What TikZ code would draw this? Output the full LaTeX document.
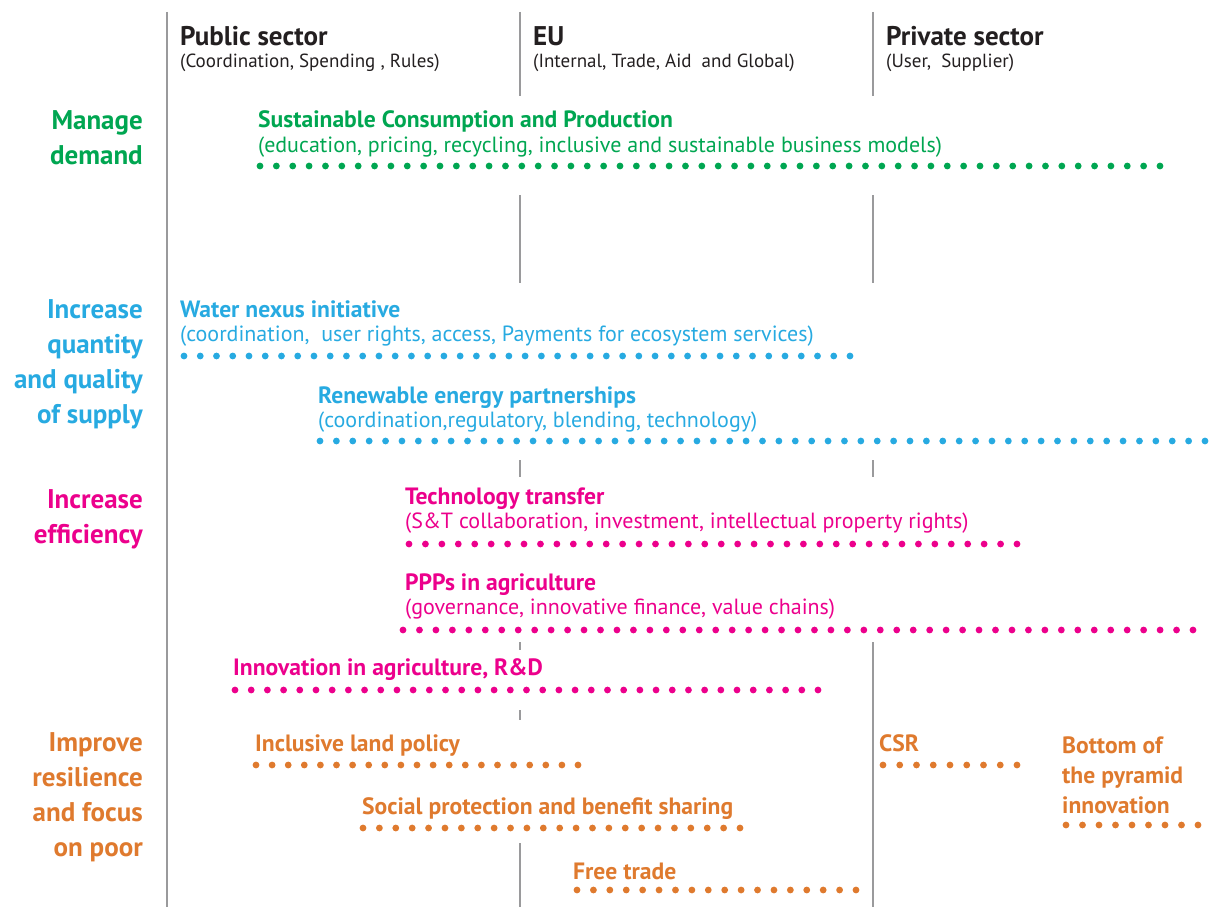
\documentclass[tikz,border=0pt]{standalone}
\usepackage{fontspec}
\setmainfont{PT Sans}
\definecolor{cgreen}{HTML}{00A651}
\definecolor{ccyan}{HTML}{27AAE1}
\definecolor{cmag}{HTML}{EC008C}
\definecolor{corange}{HTML}{DF7A2E}
\definecolor{cgray}{HTML}{9A9A9C}
\definecolor{ctext}{HTML}{231F20}
\newcommand\dotrow[4]{%
  \pgfmathtruncatemacro\dotn{round((#3-#2)/16.4)}%
  \pgfmathsetmacro\dotd{(#3-#2)/\dotn}%
  \foreach \k in {0,...,\dotn}{\fill[#1] ({#2+\k*\dotd},#4) circle[radius=3.4pt];}}
\tikzset{
  vline/.style={cgray, line width=2.3pt},
  hdtitle/.style={font=\bfseries\fontsize{27}{30}\selectfont, text=ctext, anchor=base west, inner sep=0pt},
  hdsub/.style={font=\fontsize{19}{22}\selectfont, text=ctext, anchor=base west, inner sep=0pt},
  rowlab/.style={font=\bfseries\fontsize{27}{35}\selectfont, align=right, anchor=base east, inner sep=0pt},
  ititle/.style={font=\bfseries\fontsize{23.6}{30}\selectfont, anchor=base west, inner sep=0pt},
  isub/.style={font=\fontsize{22}{25}\selectfont, anchor=base west, inner sep=0pt},
}
\begin{document}
\begin{tikzpicture}[x=1pt,y=-1pt]
\useasboundingbox (0,0) rectangle (1213,907);
% vertical column lines
\draw[vline] (167,12) -- (167,907);
\draw[vline] (520,12) -- (520,96);
\draw[vline] (520,195) -- (520,283);
\draw[vline] (520,460) -- (520,477);
\draw[vline] (520,642) -- (520,650);
\draw[vline] (520,710) -- (520,720);
\draw[vline] (520,843) -- (520,907);
\draw[vline] (873,12) -- (873,96);
\draw[vline] (873,195) -- (873,283);
\draw[vline] (873,460) -- (873,477);
\draw[vline] (873,642) -- (873,907);
% headers
\node[hdtitle] (pubt) at (180,46) {Public sector};
\node[hdsub] (pubs) at (180,68) {(Coordination, Spending , Rules)};
\node[hdtitle] (eut) at (533,46) {EU};
\node[hdsub] (eus) at (533,68) {(Internal, Trade, Aid\ \ and Global)};
\node[hdtitle] (prit) at (886,46) {Private sector};
\node[hdsub] (pris) at (886,68) {(User,\ \ Supplier)};
% row labels (base = last line)
\node[rowlab, text=cgreen] (r1) at (143,164) {Manage\\demand};
\node[rowlab, text=ccyan] (r2) at (143,423) {Increase\\quantity\\and quality\\of supply};
\node[rowlab, text=cmag] (r3) at (143,543) {Increase\\efficiency};
\node[rowlab, text=corange] (r4) at (143,856) {Improve\\resilience\\and focus\\on poor};
% green
\node[ititle, text=cgreen] (scp) at (258,127) {Sustainable Consumption and Production};
\node[isub, text=cgreen] (scps) at (258,152) {(education, pricing, recycling, inclusive and sustainable business models)};
\dotrow{cgreen}{260}{1160}{166}
% cyan
\node[ititle, text=ccyan] (wni) at (180,317) {Water nexus initiative};
\node[isub, text=ccyan] (wnis) at (180,341) {(coordination,\ \ user rights, access, Payments for ecosystem services)};
\dotrow{ccyan}{184}{850}{356}
\node[ititle, text=ccyan] (rep) at (318,403) {Renewable energy partnerships};
\node[isub, text=ccyan] (reps) at (318,427) {(coordination,regulatory, blending, technology)};
\dotrow{ccyan}{320}{1205}{441}
% magenta
\node[ititle, text=cmag] (tt) at (405,504) {Technology transfer};
\node[isub, text=cmag] (tts) at (405,528) {(S\&T collaboration, investment, intellectual property rights)};
\dotrow{cmag}{409}{1017}{544}
\node[ititle, text=cmag] (ppp) at (405,590) {PPPs in agriculture};
\node[isub, text=cmag] (ppps) at (405,614) {(governance, innovative finance, value chains)};
\dotrow{cmag}{403}{1193}{630}
\node[ititle, text=cmag] (inn) at (233,675) {Innovation in agriculture, R\&D};
\dotrow{cmag}{235}{818}{690}
% orange
\node[ititle, text=corange] (ilp) at (255,751) {Inclusive land policy};
\dotrow{corange}{256}{578}{765}
\node[ititle, text=corange] (spb) at (362,814) {Social protection and benefit sharing};
\dotrow{corange}{363}{740}{828}
\node[ititle, text=corange] (ft) at (573,879) {Free trade};
\dotrow{corange}{577}{856}{890}
\node[ititle, text=corange] (csr) at (879,751) {CSR};
\dotrow{corange}{883}{1017}{765}
\node[ititle, text=corange, align=left] (bop) at (1062,813) {Bottom of\\the pyramid\\innovation};
\dotrow{corange}{1066}{1198}{825}
\end{tikzpicture}
\end{document}
